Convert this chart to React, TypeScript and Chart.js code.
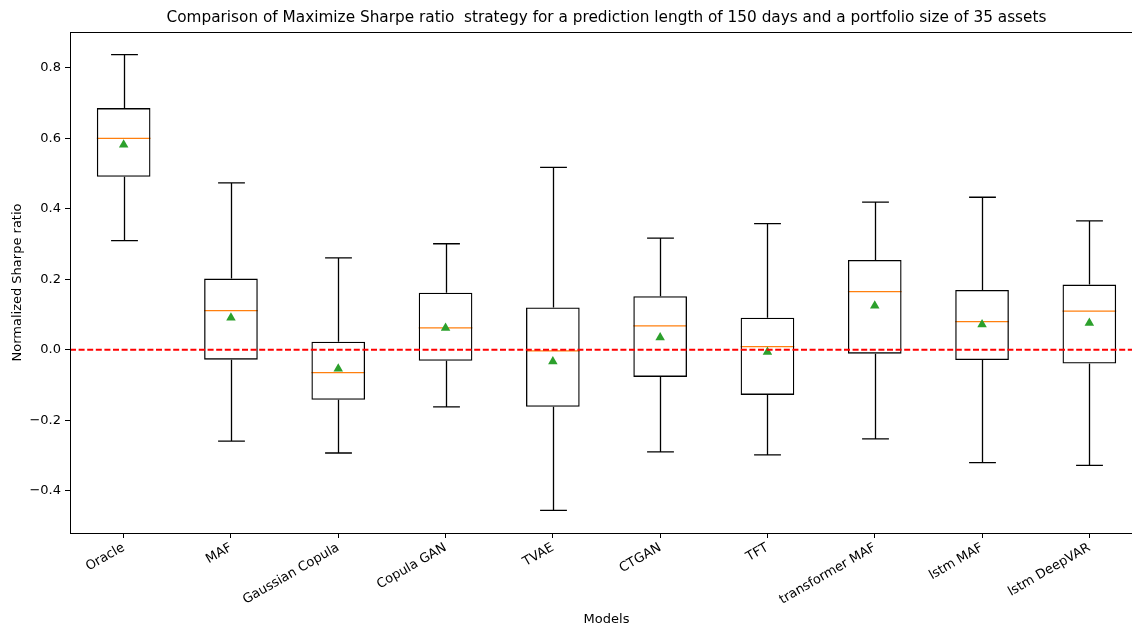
import React, { useEffect, useRef } from "react";
import { Chart, registerables } from "chart.js";

Chart.register(...registerables);

const categories = [
  "Oracle",
  "MAF",
  "Gaussian Copula",
  "Copula GAN",
  "TVAE",
  "CTGAN",
  "TFT",
  "transformer MAF",
  "lstm MAF",
  "lstm DeepVAR",
];
const whiskerHigh = [0.838, 0.474, 0.261, 0.301, 0.518, 0.317, 0.358, 0.419, 0.433, 0.366];
const q3 = [0.686, 0.202, 0.023, 0.162, 0.12, 0.152, 0.091, 0.255, 0.17, 0.185];
const medians = [0.6, 0.111, -0.065, 0.062, -0.003, 0.068, 0.009, 0.165, 0.08, 0.11];
const means = [0.582, 0.091, -0.054, 0.062, -0.033, 0.035, -0.006, 0.125, 0.072, 0.076];
const q1 = [0.491, -0.028, -0.142, -0.031, -0.162, -0.077, -0.128, -0.011, -0.029, -0.039];
const whiskerLow = [0.31, -0.259, -0.293, -0.162, -0.456, -0.29, -0.298, -0.253, -0.32, -0.328];
const yTicks = [-0.4, -0.2, 0.0, 0.2, 0.4, 0.6, 0.8];
const yMin = -0.52;
const yMax = 0.902;
const referenceValue = 0;
const titleText =
  "Comparison of Maximize Sharpe ratio  strategy for a prediction length of 150 days and a portfolio size of 35 assets";

const boxExtras = {
  id: "boxExtras",
  beforeDatasetsDraw(chart: any) {
    const ctx = chart.ctx;
    const y = chart.scales.y;
    const meta = chart.getDatasetMeta(0);
    ctx.save();
    meta.data.forEach((bar: any, i: number) => {
      const cx = Math.round(bar.x) + 0.5;
      const w = bar.width;
      const capHalf = w / 4;
      const yHi = y.getPixelForValue(whiskerHigh[i]);
      const yQ3 = y.getPixelForValue(q3[i]);
      const yQ1 = y.getPixelForValue(q1[i]);
      const yLo = y.getPixelForValue(whiskerLow[i]);
      ctx.strokeStyle = "#000";
      ctx.lineWidth = 1.3;
      ctx.beginPath();
      ctx.moveTo(cx, yQ3);
      ctx.lineTo(cx, yHi);
      ctx.moveTo(cx - capHalf, yHi);
      ctx.lineTo(cx + capHalf, yHi);
      ctx.moveTo(cx, yQ1);
      ctx.lineTo(cx, yLo);
      ctx.moveTo(cx - capHalf, yLo);
      ctx.lineTo(cx + capHalf, yLo);
      ctx.stroke();
      const yMed = y.getPixelForValue(medians[i]);
      ctx.strokeStyle = "#ff7f0e";
      ctx.beginPath();
      ctx.moveTo(bar.x - w / 2, yMed);
      ctx.lineTo(bar.x + w / 2, yMed);
      ctx.stroke();
    });
    ctx.restore();
  },
  afterDatasetsDraw(chart: any) {
    const ctx = chart.ctx;
    const y = chart.scales.y;
    const area = chart.chartArea;
    const y0 = y.getPixelForValue(referenceValue);
    ctx.save();
    ctx.strokeStyle = "#ff0000";
    ctx.lineWidth = 2;
    ctx.setLineDash([6, 2.6]);
    ctx.beginPath();
    ctx.moveTo(area.left, y0);
    ctx.lineTo(area.right, y0);
    ctx.stroke();
    ctx.restore();
  },
  afterDraw(chart: any) {
    const ctx = chart.ctx;
    const a = chart.chartArea;
    ctx.save();
    ctx.strokeStyle = "#000";
    ctx.lineWidth = 1;
    ctx.strokeRect(Math.round(a.left) + 0.5, Math.round(a.top) + 0.5, Math.round(a.right - a.left) - 1, Math.round(a.bottom - a.top));
    ctx.fillStyle = "#000";
    ctx.font = "15.3px 'DejaVu Sans', sans-serif";
    ctx.textAlign = "center";
    ctx.textBaseline = "middle";
    ctx.fillText(titleText, (a.left + a.right) / 2, 18);
    ctx.restore();
  },
};

export default function App() {
  const canvasRef = useRef<HTMLCanvasElement | null>(null);

  useEffect(() => {
    const canvas = canvasRef.current;
    if (!canvas) return;
    Chart.defaults.font.family = "'DejaVu Sans', sans-serif";
    Chart.defaults.color = "#000";
    const chart = new Chart(canvas, {
      type: "bar",
      data: {
        labels: categories,
        datasets: [
          {
            type: "bar",
            data: categories.map((_, i) => [q1[i], q3[i]]) as any,
            backgroundColor: "rgba(0,0,0,0)",
            borderColor: "#000",
            borderWidth: 1.3,
            borderSkipped: false,
            barPercentage: 0.5,
            categoryPercentage: 1,
            order: 2,
          } as any,
          {
            type: "line",
            data: means,
            showLine: false,
            pointStyle: "triangle",
            pointRadius: 5.5,
            pointBackgroundColor: "#2ca02c",
            pointBorderColor: "#2ca02c",
            pointBorderWidth: 0,
            order: 1,
          } as any,
        ],
      },
      options: {
        responsive: false,
        animation: false,
        devicePixelRatio: 1,
        layout: { autoPadding: false, padding: { left: 0, right: 7, top: 32, bottom: 0 } },
        plugins: {
          legend: { display: false },
          tooltip: { enabled: false },
          title: { display: false },
        },
        scales: {
          x: {
            type: "category",
            offset: true,
            grid: { display: true, offset: false, drawOnChartArea: false, drawTicks: true, tickLength: 5, color: "#000" },
            border: { display: true, color: "#000" },
            ticks: { autoSkip: false, minRotation: 30, maxRotation: 30, font: { size: 13 }, color: "#000", padding: 2 },
            title: { display: true, text: "Models", font: { size: 13 }, color: "#000", padding: { top: 0, bottom: -3 } },
            afterFit: (scale: any) => {
              scale.height = 91;
              scale.paddingLeft = 0;
              scale.paddingRight = 0;
            },
          },
          y: {
            type: "linear",
            min: yMin,
            max: yMax,
            grid: { display: true, drawOnChartArea: false, drawTicks: true, tickLength: 5, color: "#000" },
            border: { display: true, color: "#000" },
            afterBuildTicks: (scale: any) => {
              scale.ticks = yTicks.map((v) => ({ value: v }));
            },
            ticks: {
              font: { size: 13 },
              color: "#000",
              padding: 4,
              callback: (v: any) => Number(v).toFixed(1).replace("-", "\u2212"),
            },
            title: { display: true, text: "Normalized Sharpe ratio", font: { size: 13 }, color: "#000", padding: { top: 10, bottom: 0 } },
            afterFit: (scale: any) => {
              scale.width = 70;
              scale.paddingTop = 0;
              scale.paddingBottom = 0;
            },
          },
        },
      } as any,
      plugins: [boxExtras],
    });
    return () => chart.destroy();
  }, []);

  return (
    <div style={{ position: "absolute", left: 0, top: 0, width: 1132, height: 624, overflow: "hidden", background: "#fff" }}>
      <canvas ref={canvasRef} width={1150} height={624} style={{ display: "block" }} />
    </div>
  );
}
